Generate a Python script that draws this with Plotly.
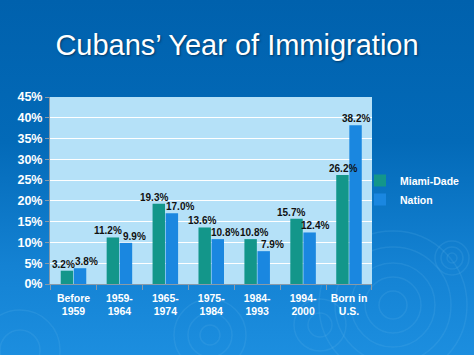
import base64
import plotly.graph_objects as go

categories = ["Before<br>1959", "1959-<br>1964", "1965-<br>1974", "1975-<br>1984",
              "1984-<br>1993", "1994-<br>2000", "Born in<br>U.S."]
miami_dade = [3.2, 11.2, 19.3, 13.6, 10.8, 15.7, 26.2]
nation = [3.8, 9.9, 17.0, 10.8, 7.9, 12.4, 38.2]
y_ticks = [0, 5, 10, 15, 20, 25, 30, 35, 40, 45]

# label horizontal nudges (px) so neighbouring value labels do not collide
miami_shift = [-3, -4, -4, -2, 4, -5, 1]
nation_shift = [6, 8, 8, 7, 8, 5, 0]

W, H = 474, 355
ML, MR, MT, MB = 50, 102, 97, 71
PW, PH = W - ML - MR, H - MT - MB

svg = """<svg xmlns='http://www.w3.org/2000/svg' width='474' height='355'>
<defs><linearGradient id='g' x1='0' y1='0' x2='0' y2='1'>
<stop offset='0' stop-color='#0061AD'/><stop offset='0.4' stop-color='#036AB8'/>
<stop offset='0.75' stop-color='#1482D3'/><stop offset='1' stop-color='#1C8EDF'/></linearGradient></defs>
<rect width='474' height='355' fill='url(#g)'/>
<g fill='none' stroke='#6BB8EE' stroke-opacity='0.16' stroke-width='1.5'>
<circle cx='393' cy='305' r='14'/><circle cx='393' cy='305' r='28'/><circle cx='393' cy='305' r='42'/><circle cx='393' cy='305' r='58'/><circle cx='393' cy='305' r='74'/>
<circle cx='452' cy='258' r='5'/><circle cx='452' cy='258' r='11'/><circle cx='452' cy='258' r='17'/>
<circle cx='210' cy='335' r='10'/><circle cx='210' cy='335' r='22'/><circle cx='210' cy='335' r='36'/>
<circle cx='320' cy='325' r='12'/><circle cx='320' cy='325' r='26'/>
<circle cx='20' cy='350' r='20'/><circle cx='20' cy='350' r='40'/>
</g></svg>"""
uri = "data:image/svg+xml;base64," + base64.b64encode(svg.encode()).decode()

label_font = dict(family="Arial", size=10, color="#111111", weight="bold")

fig = go.Figure()
fig.add_trace(go.Bar(
    name="Miami-Dade", x=categories, y=miami_dade, offsetgroup="m",
    marker=dict(color="#13968A", line=dict(width=0)),
))
fig.add_trace(go.Bar(
    name="Nation", x=categories, y=nation, offsetgroup="n",
    marker=dict(color="#1A87E0", line=dict(width=0)),
))

annotations = []
for cat, v, s in zip(categories, miami_dade, miami_shift):
    annotations.append(dict(x=cat, y=v, xref="x", yref="y", text=f"{v:.1f}%",
                            showarrow=False, yanchor="bottom", xanchor="center",
                            xshift=-7 + s, yshift=-1, font=label_font))
for cat, v, s in zip(categories, nation, nation_shift):
    annotations.append(dict(x=cat, y=v, xref="x", yref="y", text=f"{v:.1f}%",
                            showarrow=False, yanchor="bottom", xanchor="center",
                            xshift=7 + s, yshift=-1, font=label_font))

fig.update_layout(
    width=W, height=H,
    margin=dict(l=ML, r=MR, t=MT, b=MB, autoexpand=False),
    paper_bgcolor="#0A6AB5",
    plot_bgcolor="#B5E1F8",
    images=[dict(source=uri, xref="paper", yref="paper",
                 x=-ML / PW, y=1 + MT / PH, sizex=W / PW, sizey=H / PH,
                 xanchor="left", yanchor="top", sizing="stretch", layer="below")],
    shapes=[dict(type="rect", xref="x domain", yref="y domain", x0=0, x1=1, y0=0, y1=1,
                 fillcolor="#B5E1F8", line=dict(width=0), layer="below")],
    annotations=annotations,
    barmode="group", bargap=0.43, bargroupgap=0.05,
    title=dict(text="Cubans’ Year of Immigration", x=0.5, xanchor="center",
               y=1 - 45 / H, yanchor="middle", yref="container",
               font=dict(family="Arial", size=29, color="white",
                         shadow="1px 1px 2px #043A66")),
    legend=dict(xref="container", yref="container", x=360 / W, xanchor="left",
                y=1 - 190 / H, yanchor="middle",
                font=dict(family="Arial", size=10.5, color="white", weight="bold"),
                bgcolor="rgba(0,0,0,0)", itemwidth=30, tracegroupgap=0),
    showlegend=True,
)
fig.update_xaxes(
    showline=True, linecolor="#8A9AA8", linewidth=1,
    ticks="outside", tickson="boundaries", ticklen=5, tickcolor="#8A9AA8",
    tickangle=0, ticklabelstandoff=4,
    tickfont=dict(family="Arial", size=10.5, color="white", weight="bold"),
    showgrid=False,
)
fig.update_yaxes(
    range=[0, 45], tickvals=y_ticks, ticktext=[f"{t}%" for t in y_ticks],
    showline=True, linecolor="#8A9AA8", linewidth=1,
    ticks="outside", ticklen=4, tickcolor="#8A9AA8",
    showgrid=True, gridcolor="white", gridwidth=1.2,
    tickfont=dict(family="Arial", size=12.5, color="white", weight="bold"),
    zeroline=False,
)
fig.write_html("out.html", config={"displayModeBar": False},
               post_script="document.body.style.margin='0';")
